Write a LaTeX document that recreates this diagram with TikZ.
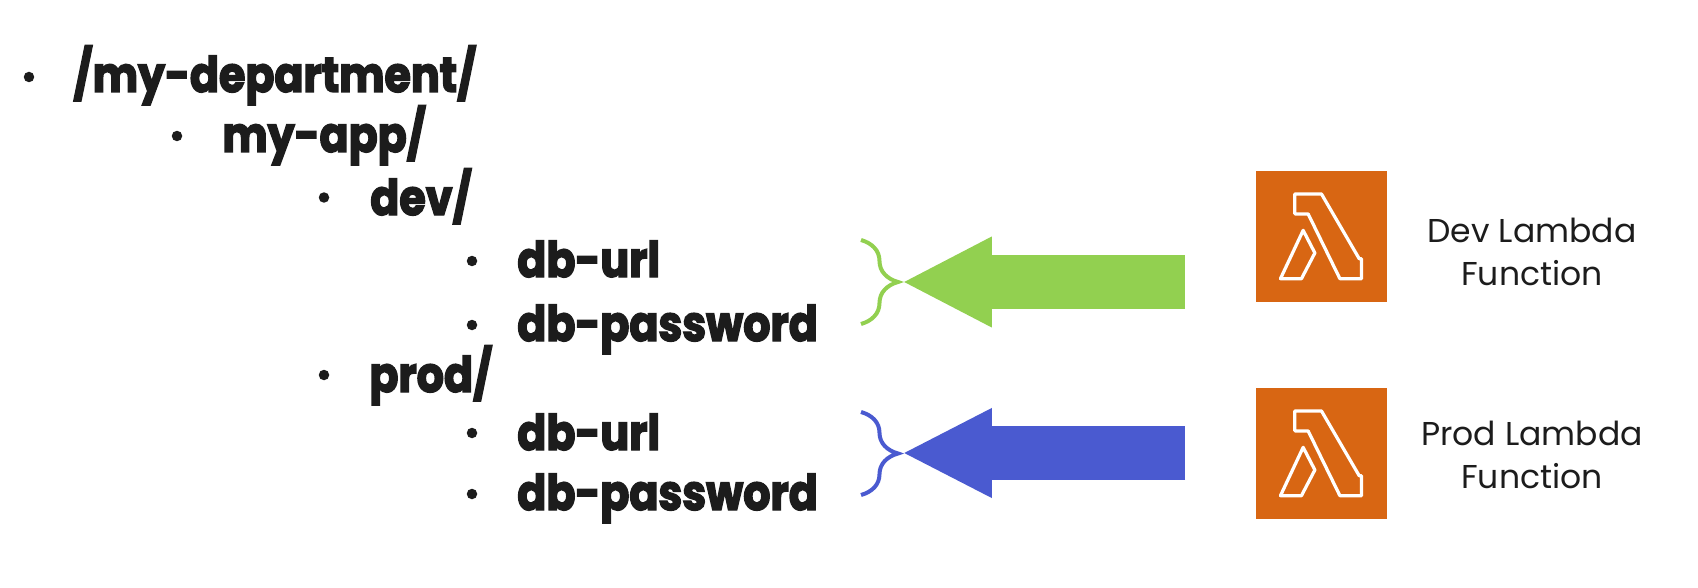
\documentclass[tikz,border=0pt]{standalone}
\usepackage{fontspec}
\setmainfont{Poppins}
\newfontfamily\listfont[FakeStretch=.87, BoldFeatures={FakeBold=3}]{Poppins}
\usetikzlibrary{arrows.meta,decorations.pathreplacing}
\definecolor{devgreen}{HTML}{92D050}
\definecolor{prodblue}{HTML}{4A5AD0}
\definecolor{lambdaorange}{HTML}{D86613}
\definecolor{inkblack}{HTML}{1C1C1C}
\tikzset{
  lambdaicon/.pic={
    \draw[white, line width=.065cm, line join=round]
      (39.7,23.3) -- (66.3,23.3) -- (104,88) -- (106.3,88) -- (106.3,108) -- (84.7,108) -- (53,43.3) -- (39.7,43.3) -- cycle;
    \draw[white, line width=.065cm, line join=round]
      (48,59.7) -- (59.7,82.3) -- (46.3,108) -- (25.3,108) -- cycle;
  }
}
\begin{document}
\begin{tikzpicture}[x=.02cm, y=-.02cm]
\tikzstyle{bullet} = [circle, fill=inkblack, minimum size=.21cm, inner sep=0cm]
\tikzstyle{entry} = [anchor=base west, inner sep=0cm, text=inkblack, font=\listfont\bfseries\fontsize{28}{34}\selectfont]
\tikzstyle{fnbox} = [fill=lambdaorange, minimum size=2.62cm, inner sep=0cm]
\tikzstyle{fnlabel} = [align=center, inner sep=0cm, text=inkblack, font=\fontsize{18.8}{24}\selectfont]
\useasboundingbox (0,0) rectangle (1698,588);
% the tree
\node[bullet] (b1) at (29,77) {};
\node[entry] (dept) at (73,92) {/my-department/};
\node[bullet] (b2) at (177,136) {};
\node[entry] (app) at (222,152) {my-app/};
\node[bullet] (b3) at (324,197.5) {};
\node[entry] (dev) at (370,215) {dev/};
\node[bullet] (b4) at (472,261) {};
\node[entry] (devurl) at (517,277) {db-url};
\node[bullet] (b5) at (472,325) {};
\node[entry] (devpass) at (517,341) {db-password};
\node[bullet] (b6) at (324,375) {};
\node[entry] (prod) at (369,392) {prod/};
\node[bullet] (b7) at (472,433) {};
\node[entry] (produrl) at (517,450) {db-url};
\node[bullet] (b8) at (472,494) {};
\node[entry] (prodpass) at (517,510) {db-password};
% the functions
\node[fnbox] (devfn) at (1321,236.5) {};
\node[fnbox] (prodfn) at (1321,453.5) {};
\pic at (devfn.north west) {lambdaicon};
\pic at (prodfn.north west) {lambdaicon};
\node[fnlabel] (devlabel) at (1532,252) {Dev Lambda\\Function};
\node[fnlabel] (prodlabel) at (1532,455) {Prod Lambda\\Function};
% arrows and braces
\coordinate (devstart) at (1185,282);
\coordinate (devtip) at (902,282);
\coordinate (prodstart) at (1185,453);
\coordinate (prodtip) at (902,453);
\draw[devgreen, line width=1.08cm, -{Triangle[length=1.8cm, width=1.68cm]}] (devstart) -- (devtip);
\draw[prodblue, line width=1.08cm, -{Triangle[length=1.8cm, width=1.66cm]}] (prodstart) -- (prodtip);
\coordinate (devtop) at (861,240);
\coordinate (devbot) at (861,324);
\coordinate (prodtop) at (861,412);
\coordinate (prodbot) at (861,495);
\draw[devgreen, line width=.08cm, decorate, decoration={brace, amplitude=.74cm}] (devtop) -- (devbot);
\draw[prodblue, line width=.08cm, decorate, decoration={brace, amplitude=.74cm}] (prodtop) -- (prodbot);
\end{tikzpicture}
\end{document}
